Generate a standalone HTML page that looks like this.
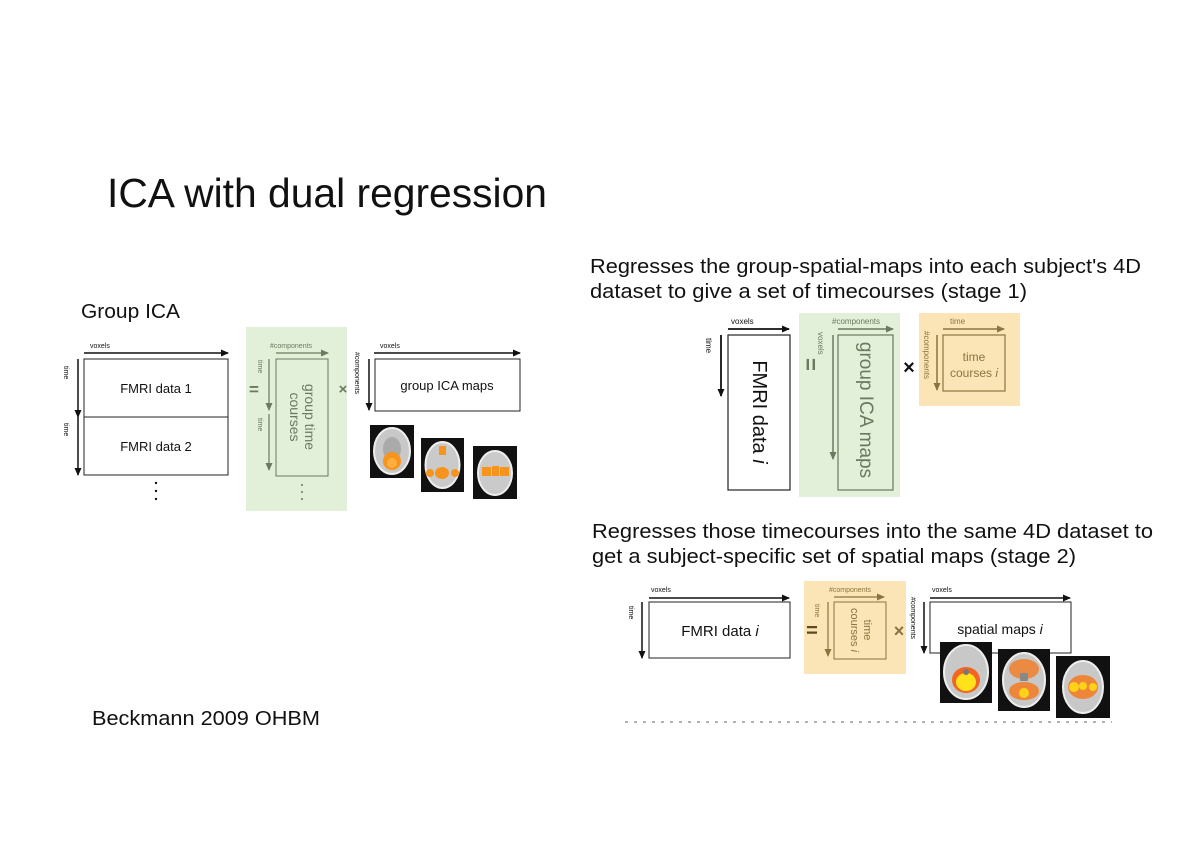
<!DOCTYPE html>
<html><head><meta charset="utf-8"><style>
html,body{margin:0;padding:0;background:#fff;}
svg{display:block;font-family:"Liberation Sans",sans-serif;}
</style></head><body>
<svg width="1200" height="848" viewBox="0 0 1200 848" xmlns="http://www.w3.org/2000/svg">
<defs>
<marker id="ak" markerWidth="8" markerHeight="8" refX="7" refY="4" orient="auto" markerUnits="userSpaceOnUse"><path d="M0,0.5 L8,4 L0,7.5 z" fill="#111"/></marker>
<marker id="ag" markerWidth="8" markerHeight="8" refX="7" refY="4" orient="auto" markerUnits="userSpaceOnUse"><path d="M0,0.5 L8,4 L0,7.5 z" fill="#6b7a5e"/></marker>
<marker id="ao" markerWidth="8" markerHeight="8" refX="7" refY="4" orient="auto" markerUnits="userSpaceOnUse"><path d="M0,0.5 L8,4 L0,7.5 z" fill="#8a7440"/></marker>
<g id="brainA"><rect width="44" height="53" fill="#111"/><ellipse cx="22" cy="26" rx="18" ry="23" fill="#c8c8c8" stroke="#eee" stroke-width="2"/><ellipse cx="22" cy="24" rx="9" ry="12" fill="#aaa"/><ellipse cx="22" cy="36" rx="9" ry="9" fill="#f7941d"/><circle cx="22" cy="38" r="5" fill="#ffae3a"/></g>
<g id="brainB"><rect width="43" height="54" fill="#111"/><ellipse cx="21.5" cy="27" rx="17" ry="23" fill="#cacaca" stroke="#eee" stroke-width="2"/><rect x="18" y="8" width="7" height="9" fill="#f7941d"/><ellipse cx="21" cy="35" rx="7" ry="6" fill="#f7941d"/><circle cx="9" cy="35" r="4" fill="#f7941d"/><circle cx="34" cy="35" r="4" fill="#f7941d"/></g>
<g id="brainC"><rect width="44" height="53" fill="#111"/><ellipse cx="22" cy="27" rx="17" ry="22" fill="#cacaca" stroke="#eee" stroke-width="2"/><rect x="9" y="21" width="9" height="9" fill="#f7941d"/><rect x="19" y="20" width="7" height="10" fill="#f7941d"/><rect x="27" y="21" width="9" height="9" fill="#f7941d"/></g>
<g id="brainD"><rect width="52" height="61" fill="#111"/><ellipse cx="26" cy="30" rx="22" ry="27" fill="#c8c8c8" stroke="#eee" stroke-width="2"/><ellipse cx="26" cy="38" rx="14" ry="13" fill="#f26522"/><ellipse cx="26" cy="40" rx="10" ry="9" fill="#ffe21a"/><circle cx="26" cy="30" r="3" fill="#777"/></g>
<g id="brainE"><rect width="52" height="62" fill="#111"/><ellipse cx="26" cy="31" rx="21" ry="27" fill="#c8c8c8" stroke="#eee" stroke-width="2"/><ellipse cx="26" cy="20" rx="15" ry="10" fill="#f47a20" opacity=".8"/><ellipse cx="26" cy="42" rx="15" ry="9" fill="#f47a20" opacity=".85"/><circle cx="26" cy="44" r="5" fill="#ffd21a"/><rect x="22" y="24" width="8" height="8" fill="#888"/></g>
<g id="brainF"><rect width="54" height="62" fill="#111"/><ellipse cx="27" cy="31" rx="20" ry="26" fill="#c8c8c8" stroke="#eee" stroke-width="2"/><ellipse cx="27" cy="31" rx="15" ry="12" fill="#f47a20" opacity=".85"/><circle cx="18" cy="31" r="5" fill="#ffd21a"/><circle cx="27" cy="30" r="4" fill="#ffd21a"/><circle cx="37" cy="31" r="4" fill="#ffd21a"/></g>
</defs>

<text x="107" y="207" font-size="41" fill="#111" textLength="440" lengthAdjust="spacingAndGlyphs">ICA with dual regression</text>
<text x="81" y="318" font-size="20" fill="#111" textLength="99" lengthAdjust="spacingAndGlyphs">Group ICA</text>
<text x="590" y="273" font-size="20.5" fill="#111" textLength="551" lengthAdjust="spacingAndGlyphs">Regresses the group-spatial-maps into each subject's 4D</text>
<text x="590" y="298" font-size="20.5" fill="#111" textLength="437" lengthAdjust="spacingAndGlyphs">dataset to give a set of timecourses (stage 1)</text>
<text x="592" y="538" font-size="20.5" fill="#111" textLength="561" lengthAdjust="spacingAndGlyphs">Regresses those timecourses into the same 4D dataset to</text>
<text x="592" y="563" font-size="20.5" fill="#111" textLength="484" lengthAdjust="spacingAndGlyphs">get a subject-specific set of spatial maps (stage 2)</text>
<text x="92" y="725" font-size="20" fill="#111" textLength="228" lengthAdjust="spacingAndGlyphs">Beckmann 2009 OHBM</text>

<!-- LEFT DIAGRAM -->
<text x="90" y="348" font-size="7" fill="#111">voxels</text>
<line x1="84" y1="353" x2="228" y2="353" stroke="#111" stroke-width="1.5" marker-end="url(#ak)"/>
<rect x="84" y="359" width="144" height="58" fill="#fff" stroke="#222" stroke-width="1"/>
<rect x="84" y="417" width="144" height="58" fill="#fff" stroke="#222" stroke-width="1"/>
<text x="156" y="393" font-size="13" text-anchor="middle" fill="#111">FMRI data 1</text>
<text x="156" y="451" font-size="13" text-anchor="middle" fill="#111">FMRI data 2</text>
<line x1="78" y1="359" x2="78" y2="417" stroke="#111" stroke-width="1.5" marker-end="url(#ak)"/>
<line x1="78" y1="417" x2="78" y2="475" stroke="#111" stroke-width="1.5" marker-end="url(#ak)"/>
<text transform="translate(64,366) rotate(90)" font-size="7" fill="#111">time</text>
<text transform="translate(64,423) rotate(90)" font-size="7" fill="#111">time</text>
<circle cx="156" cy="483" r="1.2" fill="#111"/><circle cx="156" cy="491" r="1.2" fill="#111"/><circle cx="156" cy="499" r="1.2" fill="#111"/>

<rect x="246" y="327" width="101" height="184" fill="#e2efd9"/>
<text x="249" y="395" font-size="17" fill="#6b7a5e" font-weight="bold">=</text>
<text x="270" y="348" font-size="7" fill="#6b7a5e">#components</text>
<line x1="276" y1="353" x2="328" y2="353" stroke="#6b7a5e" stroke-width="1.2" marker-end="url(#ag)"/>
<rect x="276" y="359" width="52" height="117" fill="none" stroke="#6b7a5e" stroke-width="1"/>
<line x1="269" y1="359" x2="269" y2="410" stroke="#6b7a5e" stroke-width="1.2" marker-end="url(#ag)"/>
<line x1="269" y1="414" x2="269" y2="470" stroke="#6b7a5e" stroke-width="1.2" marker-end="url(#ag)"/>
<text transform="translate(258,360) rotate(90)" font-size="7" fill="#6b7a5e">time</text>
<text transform="translate(258,418) rotate(90)" font-size="7" fill="#6b7a5e">time</text>
<text transform="translate(302,417) rotate(90)" font-size="14" text-anchor="middle" fill="#6b7a5e"><tspan x="0" y="-3">group time</tspan><tspan x="0" y="12">courses</tspan></text>
<circle cx="302" cy="485" r="1" fill="#6b7a5e"/><circle cx="302" cy="492" r="1" fill="#6b7a5e"/><circle cx="302" cy="499" r="1" fill="#6b7a5e"/>
<text x="343" y="394" font-size="15" text-anchor="middle" fill="#6b7a5e" font-weight="bold">×</text>
<text transform="translate(355,352) rotate(90)" font-size="7" fill="#111">#components</text>
<line x1="369" y1="359" x2="369" y2="410" stroke="#111" stroke-width="1.5" marker-end="url(#ak)"/>
<text x="380" y="348" font-size="7" fill="#111">voxels</text>
<line x1="374" y1="353" x2="520" y2="353" stroke="#111" stroke-width="1.5" marker-end="url(#ak)"/>
<rect x="375" y="359" width="145" height="52" fill="#fff" stroke="#222" stroke-width="1"/>
<text x="447" y="390" font-size="13" text-anchor="middle" fill="#111">group ICA maps</text>
<use href="#brainA" x="370" y="425"/>
<use href="#brainB" x="421" y="438"/>
<use href="#brainC" x="473" y="446"/>

<!-- RIGHT TOP -->
<text x="731" y="324" font-size="8" fill="#111">voxels</text>
<line x1="728" y1="329" x2="789" y2="329" stroke="#111" stroke-width="1.8" marker-end="url(#ak)"/>
<rect x="728" y="335" width="62" height="155" fill="#fff" stroke="#222" stroke-width="1.2"/>
<text transform="translate(753,412) rotate(90)" font-size="20" text-anchor="middle" fill="#111">FMRI data <tspan font-style="italic">i</tspan></text>
<line x1="721" y1="335" x2="721" y2="396" stroke="#111" stroke-width="1.8" marker-end="url(#ak)"/>
<text transform="translate(706,338) rotate(90)" font-size="8" fill="#111">time</text>

<rect x="799" y="313" width="101" height="184" fill="#e2efd9"/>
<text transform="translate(803,358) rotate(90)" font-size="22" fill="#6b7a5e" font-weight="bold">=</text>
<text transform="translate(818,332) rotate(90)" font-size="8" fill="#6b7a5e">voxels</text>
<text x="832" y="324" font-size="8" fill="#6b7a5e">#components</text>
<line x1="838" y1="329" x2="893" y2="329" stroke="#6b7a5e" stroke-width="1.5" marker-end="url(#ag)"/>
<rect x="838" y="335" width="55" height="155" fill="none" stroke="#6b7a5e" stroke-width="1.2"/>
<line x1="833" y1="335" x2="833" y2="459" stroke="#6b7a5e" stroke-width="1.5" marker-end="url(#ag)"/>
<text transform="translate(860,410) rotate(90)" font-size="19" text-anchor="middle" fill="#6b7a5e">group ICA maps</text>
<text x="909" y="374" font-size="20" text-anchor="middle" fill="#111" font-weight="bold">×</text>

<rect x="919" y="313" width="101" height="93" fill="#fbe5b6"/>
<text x="950" y="324" font-size="8" fill="#8a7440">time</text>
<line x1="943" y1="329" x2="1004" y2="329" stroke="#8a7440" stroke-width="1.5" marker-end="url(#ao)"/>
<rect x="943" y="335" width="62" height="56" fill="none" stroke="#8a7440" stroke-width="1.2"/>
<text x="974" y="361" font-size="12" text-anchor="middle" fill="#8a7440">time</text>
<text x="974" y="377" font-size="12" text-anchor="middle" fill="#8a7440">courses <tspan font-style="italic">i</tspan></text>
<line x1="937" y1="335" x2="937" y2="390" stroke="#8a7440" stroke-width="1.5" marker-end="url(#ao)"/>
<text transform="translate(924,331) rotate(90)" font-size="8" fill="#8a7440">#components</text>

<!-- RIGHT BOTTOM -->
<text x="651" y="592" font-size="7" fill="#111">voxels</text>
<line x1="649" y1="598" x2="789" y2="598" stroke="#111" stroke-width="1.5" marker-end="url(#ak)"/>
<rect x="649" y="602" width="141" height="56" fill="#fff" stroke="#222" stroke-width="1"/>
<text x="720" y="636" font-size="15" text-anchor="middle" fill="#111">FMRI data <tspan font-style="italic">i</tspan></text>
<line x1="642" y1="602" x2="642" y2="658" stroke="#111" stroke-width="1.5" marker-end="url(#ak)"/>
<text transform="translate(629,606) rotate(90)" font-size="7" fill="#111">time</text>

<rect x="804" y="581" width="102" height="93" fill="#fbe5b6"/>
<text x="812" y="637" font-size="20" text-anchor="middle" fill="#5a4a20" font-weight="bold">=</text>
<text transform="translate(815,604) rotate(90)" font-size="7" fill="#8a7440">time</text>
<text x="829" y="592" font-size="7" fill="#8a7440">#components</text>
<line x1="834" y1="597" x2="884" y2="597" stroke="#8a7440" stroke-width="1.2" marker-end="url(#ao)"/>
<rect x="834" y="602" width="52" height="57" fill="none" stroke="#8a7440" stroke-width="1"/>
<line x1="828" y1="602" x2="828" y2="656" stroke="#8a7440" stroke-width="1.2" marker-end="url(#ao)"/>
<text transform="translate(860,630) rotate(90)" font-size="11" text-anchor="middle" fill="#8a7440"><tspan x="0" y="-4">time</tspan><tspan x="0" y="9">courses <tspan font-style="italic">i</tspan></tspan></text>
<text x="899" y="637" font-size="18" text-anchor="middle" fill="#8a7440" font-weight="bold">×</text>
<text transform="translate(911,597) rotate(90)" font-size="7" fill="#111">#components</text>
<line x1="924" y1="602" x2="924" y2="653" stroke="#111" stroke-width="1.5" marker-end="url(#ak)"/>
<text x="932" y="592" font-size="7" fill="#111">voxels</text>
<line x1="930" y1="598" x2="1070" y2="598" stroke="#111" stroke-width="1.5" marker-end="url(#ak)"/>
<rect x="930" y="602" width="141" height="51" fill="#fff" stroke="#222" stroke-width="1"/>
<text x="1000" y="634" font-size="14" text-anchor="middle" fill="#111">spatial maps <tspan font-style="italic">i</tspan></text>
<use href="#brainD" x="940" y="642"/>
<use href="#brainE" x="998" y="649"/>
<use href="#brainF" x="1056" y="656"/>
<line x1="625" y1="722" x2="1112" y2="722" stroke="#999" stroke-width="1.5" stroke-dasharray="3,6"/>
</svg>
</body></html>
